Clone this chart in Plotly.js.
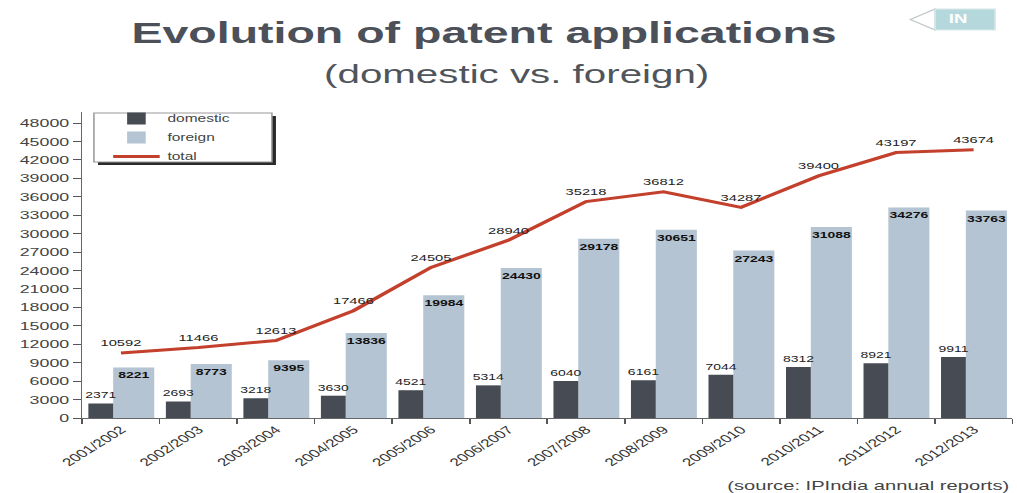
<!DOCTYPE html>
<html>
<head>
<meta charset="utf-8">
<script src="https://cdn.plot.ly/plotly-3.0.1.min.js"></script>
<style>
  html, body { margin: 0; padding: 0; background: #ffffff; overflow: hidden; }
  #chart { width: 656px; height: 493px; transform: scaleX(1.5503); transform-origin: 0 0; }
</style>
</head>
<body>
<div id="chart"></div>
<script>
// ---- data ----
const years = ["2001/2002","2002/2003","2003/2004","2004/2005","2005/2006","2006/2007",
               "2007/2008","2008/2009","2009/2010","2010/2011","2011/2012","2012/2013"];
const domestic = [2371, 2693, 3218, 3630, 4521, 5314, 6040, 6161, 7044, 8312, 8921, 9911];
const foreign  = [8221, 8773, 9395, 13836, 19984, 24430, 29178, 30651, 27243, 31088, 34276, 33763];
const total    = [10592, 11466, 12613, 17466, 24505, 28940, 35218, 36812, 34287, 39400, 43197, 43674];
const yTicks   = [0,3000,6000,9000,12000,15000,18000,21000,24000,27000,30000,33000,36000,39000,42000,45000,48000];

const FONT = "Liberation Sans, Arial, sans-serif";

const traces = [
  {
    type: "bar", name: "foreign", x: years, y: foreign, legendrank: 2,
    width: 0.53, offset: -0.10,
    marker: { color: "#b4c4d2" },
    text: foreign.map(String), textposition: "inside", insidetextanchor: "end",
    constraintext: "none", textangle: 0,
    textfont: { family: FONT, size: 9, color: "#111111", weight: "bold" }
  },
  {
    type: "bar", name: "domestic", x: years, y: domestic, legendrank: 1,
    width: 0.32, offset: -0.42,
    marker: { color: "#464b54" },
    text: domestic.map(String), textposition: "outside", cliponaxis: false,
    constraintext: "none", textangle: 0,
    textfont: { family: FONT, size: 9, color: "#222222" }
  },
  {
    type: "scatter", mode: "lines+markers+text", name: "total", x: years, y: total, legendrank: 3,
    line: { color: "#c3402c", width: 3 },
    marker: { size: 5, color: "rgba(0,0,0,0)" },
    text: total.map(String), textposition: "top center", cliponaxis: false,
    textfont: { family: FONT, size: 9.5, color: "#222222" }
  }
];

const L = 53, PW = 600, T = 112, PH = 306;
function px(x) { return (x - L) / PW; }
function py(y) { return (T + PH - y) / PH; }

const layout = {
  width: 656, height: 493,
  margin: { l: L, r: 3, t: T, b: 493 - T - PH, pad: 0 },
  paper_bgcolor: "#ffffff", plot_bgcolor: "#ffffff",
  barmode: "overlay",
  font: { family: FONT, color: "#333333" },
  title: {
    text: "<b>Evolution of patent applications</b>",
    font: { family: FONT, size: 30, color: "#4b5059" },
    x: 0.476, xanchor: "center", xref: "container",
    y: 1 - 33 / 493, yanchor: "middle", yref: "container"
  },
  xaxis: {
    type: "category", tickson: "boundaries", ticks: "outside", ticklen: 5,
    tickcolor: "#555555", showline: true, linecolor: "#666666", linewidth: 1,
    showgrid: false, tickangle: -44,
    tickfont: { family: FONT, size: 11, color: "#333333" },
    range: [-0.5, 11.5]
  },
  yaxis: {
    range: [0, 49800], tickvals: yTicks, ticktext: yTicks.map(String),
    ticks: "outside", ticklen: 5, tickcolor: "#555555",
    showline: true, linecolor: "#666666", linewidth: 1,
    showgrid: false, zeroline: false,
    tickfont: { family: FONT, size: 11.5, color: "#444444" }
  },
  showlegend: true,
  legend: {
    x: px(68), xanchor: "left", y: py(104), yanchor: "top",
    bgcolor: "rgba(0,0,0,0)", borderwidth: 0,
    font: { family: FONT, size: 10, color: "#444444" },
    traceorder: "normal"
  },
  shapes: [
    // legend box shadow + box
    { type: "rect", xref: "paper", yref: "paper", layer: "above",
      x0: px(63.2), x1: px(178), y0: py(165), y1: py(116),
      fillcolor: "#2a2a2a", line: { width: 0 } },
    { type: "rect", xref: "paper", yref: "paper", layer: "above",
      x0: px(60.6), x1: px(175.4), y0: py(162), y1: py(113),
      fillcolor: "#ffffff", line: { color: "#9a9a9a", width: 1 } },
    // "IN" badge
    { type: "path", xref: "paper", yref: "paper", layer: "above",
      path: `M ${px(603.2)} ${py(9)} L ${px(587.1)} ${py(19.5)} L ${px(603.2)} ${py(30)} Z`,
      fillcolor: "#ffffff", line: { color: "#bfc7c9", width: 1 } },
    { type: "rect", xref: "paper", yref: "paper", layer: "above",
      x0: px(603.2), x1: px(641.9), y0: py(30), y1: py(9),
      fillcolor: "#b5d8dc", line: { color: "#d8e8ea", width: 1 } }
  ],
  annotations: [
    { text: "(domestic vs. foreign)", xref: "paper", yref: "paper",
      x: px(333.5), y: py(74), xanchor: "center", yanchor: "middle", showarrow: false,
      font: { family: FONT, size: 26, color: "#50555c" } },
    { text: "(source: IPIndia annual reports)", xref: "paper", yref: "paper",
      x: px(653.4), y: py(485), xanchor: "right", yanchor: "middle", showarrow: false,
      font: { family: FONT, size: 13, color: "#444444" } },
    { text: "<b>IN</b>", xref: "paper", yref: "paper",
      x: px(618), y: py(19.5), xanchor: "center", yanchor: "middle", showarrow: false,
      font: { family: FONT, size: 12, color: "#ffffff" } }
  ]
};

Plotly.newPlot("chart", traces, layout, { displayModeBar: false, staticPlot: true });
</script>
</body>
</html>
